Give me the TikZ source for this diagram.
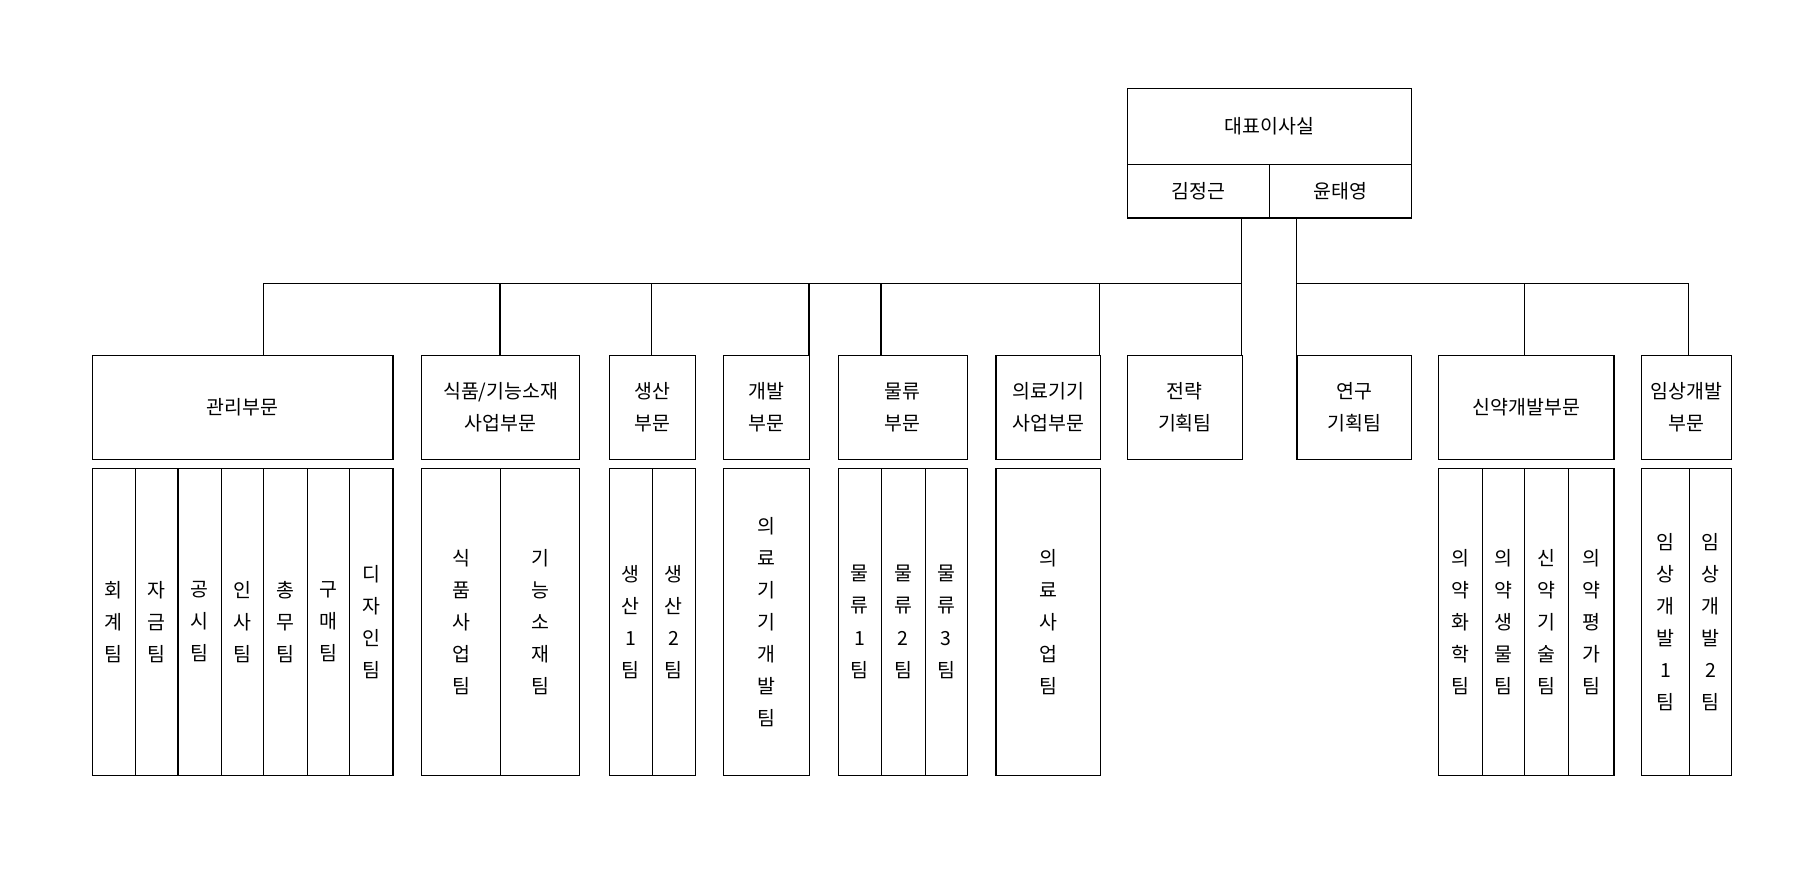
\documentclass[tikz,border=0pt]{standalone}
\usepackage{fontspec}
\setmainfont{Noto Sans CJK KR}
\begin{document}
\begin{tikzpicture}[x=0.5pt,y=-0.5pt,line width=0.5pt,
  box/.style={draw,rectangle,inner sep=0pt,anchor=north west,align=center,font=\fontsize{8.5}{14}\selectfont},
]
\useasboundingbox (0,0) rectangle (1567,768);
\newcommand{\bx}[6]{\node[box,minimum width=#4*0.5pt,minimum height=#5*0.5pt] (#1) at (#2,#3) {#6};}
% top
\bx{ceo}{985}{77}{248}{66}{대표이사실}
\bx{k1}{985}{143}{124}{47}{김정근}
\bx{k2}{1109}{143}{124}{47}{윤태영}
% departments
\bx{d1}{80}{310}{263}{91}{관리부문}
\bx{d2}{368}{310}{138}{91}{식품/기능소재\\사업부문}
\bx{d3}{532}{310}{75}{91}{생산\\부문}
\bx{d4}{632}{310}{75}{91}{개발\\부문}
\bx{d5}{732}{310}{113}{91}{물류\\부문}
\bx{d6}{870}{310}{91}{91}{의료기기\\사업부문}
\bx{d7}{985}{310}{100}{91}{전략\\기획팀}
\bx{d8}{1133}{310}{100}{91}{연구\\기획팀}
\bx{d9}{1257}{310}{153}{91}{신약개발부문}
\bx{d10}{1434}{310}{79}{91}{임상개발\\부문}
% teams
\def\ty{409}\def\th{268}
\bx{a1}{80}{\ty}{38}{\th}{회\\계\\팀}
\bx{a2}{118}{\ty}{37}{\th}{자\\금\\팀}
\bx{a3}{155}{\ty}{38}{\th}{공\\시\\팀}
\bx{a4}{193}{\ty}{37}{\th}{인\\사\\팀}
\bx{a5}{230}{\ty}{38}{\th}{총\\무\\팀}
\bx{a6}{268}{\ty}{37}{\th}{구\\매\\팀}
\bx{a7}{305}{\ty}{38}{\th}{디\\자\\인\\팀}
\bx{b1}{368}{\ty}{69}{\th}{식\\품\\사\\업\\팀}
\bx{b2}{437}{\ty}{69}{\th}{기\\능\\소\\재\\팀}
\bx{c1}{532}{\ty}{37.5}{\th}{생\\산\\1\\팀}
\bx{c2}{569.5}{\ty}{37.5}{\th}{생\\산\\2\\팀}
\bx{e1}{632}{\ty}{75}{\th}{의\\료\\기\\기\\개\\발\\팀}
\bx{f1}{732}{\ty}{38}{\th}{물\\류\\1\\팀}
\bx{f2}{770}{\ty}{38}{\th}{물\\류\\2\\팀}
\bx{f3}{808}{\ty}{37}{\th}{물\\류\\3\\팀}
\bx{g1}{870}{\ty}{91}{\th}{의\\료\\사\\업\\팀}
\bx{h1}{1257}{\ty}{38}{\th}{의\\약\\화\\학\\팀}
\bx{h2}{1295}{\ty}{37}{\th}{의\\약\\생\\물\\팀}
\bx{h3}{1332}{\ty}{38}{\th}{신\\약\\기\\술\\팀}
\bx{h4}{1370}{\ty}{40}{\th}{의\\약\\평\\가\\팀}
\bx{i1}{1434}{\ty}{42}{\th}{임\\상\\개\\발\\1\\팀}
\bx{i2}{1476}{\ty}{37}{\th}{임\\상\\개\\발\\2\\팀}
% connectors
\coordinate (s1) at (1085,190);
\coordinate (s2) at (1133,190);
\coordinate (bl) at (230,248);
\coordinate (br) at (1476,248);
\draw (s1) -- (s1 |- d7.north);
\draw (s2) -- (s2 |- d8.north);
\draw (bl) -- (s1 |- bl);
\draw (s2 |- br) -- (br) -- (br |- d10.north);
\foreach \x/\n in {230/d1,437/d2,569/d3,707/d4,770/d5,961/d6}{
  \draw (\x,248) -- (\x,248 |- \n.north);
}
\draw (1332,248) -- (1332,248 |- d9.north);
\end{tikzpicture}
\end{document}
